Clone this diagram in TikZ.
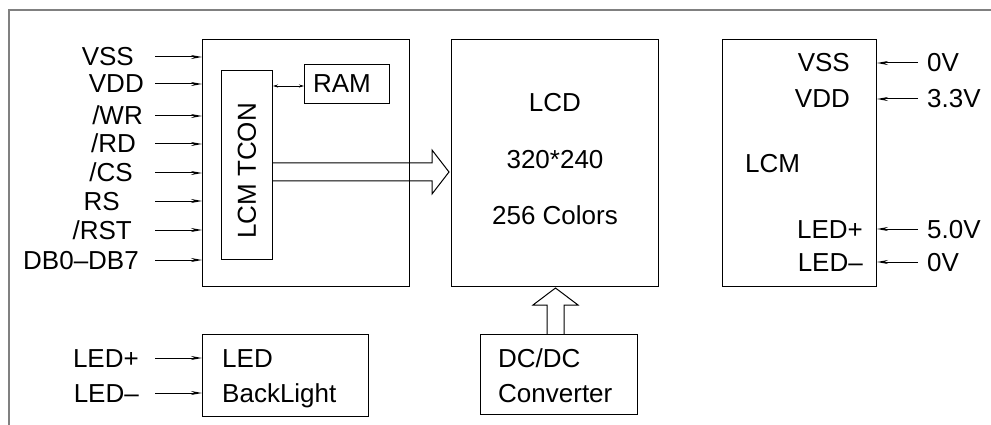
\documentclass[tikz,border=0pt]{standalone}
\usepackage{fontspec}
\setmainfont{Liberation Sans}
\usetikzlibrary{calc,arrows.meta}

\begin{document}
\begin{tikzpicture}[x=1pt,y=-1pt,
  box/.style={draw,line width=1pt,anchor=north west,inner sep=0pt},
  txt/.style={inner sep=0pt,font=\fontsize{26}{30}\selectfont},
  pin/.style={-{Stealth[length=11pt,width=4pt]},line width=1pt}]
\useasboundingbox (0,0) rectangle (991,425);
\draw[gray,line width=1.5pt] (9,425) |- (991,10);
% blocks
\node[box,minimum width=207,minimum height=247] (ifc) at (202,39) {};
\node[box,minimum width=51,minimum height=189] (tcon) at (221,70) {};
\node[box,minimum width=85,minimum height=39] (ram) at (304,64) {};
\node[box,minimum width=207,minimum height=247] (lcd) at (451,39) {};
\node[box,minimum width=154,minimum height=247] (lcm) at (722,39) {};
\node[box,minimum width=166,minimum height=82] (bl) at (202,334) {};
\node[box,minimum width=157,minimum height=80] (dcdc) at (480,334) {};
% texts in the blocks
\node[txt,rotate=90] (tcontxt) at ($(tcon.center)+(0,6)$) {LCM TCON};
\node[txt] (ramtxt) at ($(ram.center)+(-5,0)$) {RAM};
\node[txt] (lcd1) at ($(lcd.north)+(0,64)$) {LCD};
\node[txt] (lcd2) at ($(lcd.north)+(0,121)$) {320*240};
\node[txt] (lcd3) at ($(lcd.north)+(0,176)$) {256 Colors};
\node[txt,anchor=west] (lcmtxt) at ($(lcm.west)+(23,1)$) {LCM};
\node[txt,anchor=base west] (bl1) at (222,367) {LED};
\node[txt,anchor=base west] (bl2) at (222,402) {BackLight};
\node[txt,anchor=base west] (dc1) at (498,367) {DC/DC};
\node[txt,anchor=base west] (dc2) at (498,402) {Converter};
% inputs of the interface
\foreach \t/\y/\e [count=\i] in {VSS/57/134,VDD/84/144,{/WR}/116/143,{/RD}/144/136,
  {/CS}/173/133,RS/201/120,{/RST}/230/132,DB0--DB7/260/139}{
  \node[txt,anchor=base east] (in\i) at (\e,\y+9) {\t};
  \coordinate (s\i) at (155,\y);
  \draw[pin] (s\i) -- (ifc.west |- s\i);
}
\foreach \t/\y [count=\i] in {LED+/358,LED--/393}{
  \node[txt,anchor=base east] (led\i) at (139,\y+9) {\t};
  \coordinate (b\i) at (155,\y);
  \draw[pin] (b\i) -- (bl.west |- b\i);
}
% supplies of the module
\foreach \t/\v/\y/\e [count=\i] in {VSS/0V/63/850,VDD/3.3V/99/850,LED+/5.0V/229/863,LED--/0V/262/863}{
  \node[txt,anchor=base east] (pin\i) at (\e,\y+9) {\t};
  \node[txt,anchor=base west] (v\i) at (927,\y+9) {\v};
  \coordinate (r\i) at (918,\y);
  \draw[pin] (r\i) -- (lcm.east |- r\i);
}
% links
\draw[{Stealth[length=5pt,width=3pt]}-{Stealth[length=5pt,width=3pt]},line width=0.7pt]
  (tcon.east |- 0,86) -- (ram.west |- 0,86);
\draw[line width=1pt] (tcon.east |- 0,163) -- (432,163) -- (432,150)
  -- ($(lcd.west |- 0,172)+(-2,0)$) -- (432,194) -- (432,181) -- (tcon.east |- 0,181);
\draw[line width=1pt] (547,0 |- dcdc.north) -- (547,305) -- (533,305)
  -- ($(555.5,0 |- lcd.south)+(0,1)$) -- (578,305) -- (564,305) -- (564,0 |- dcdc.north);
\end{tikzpicture}
\end{document}
